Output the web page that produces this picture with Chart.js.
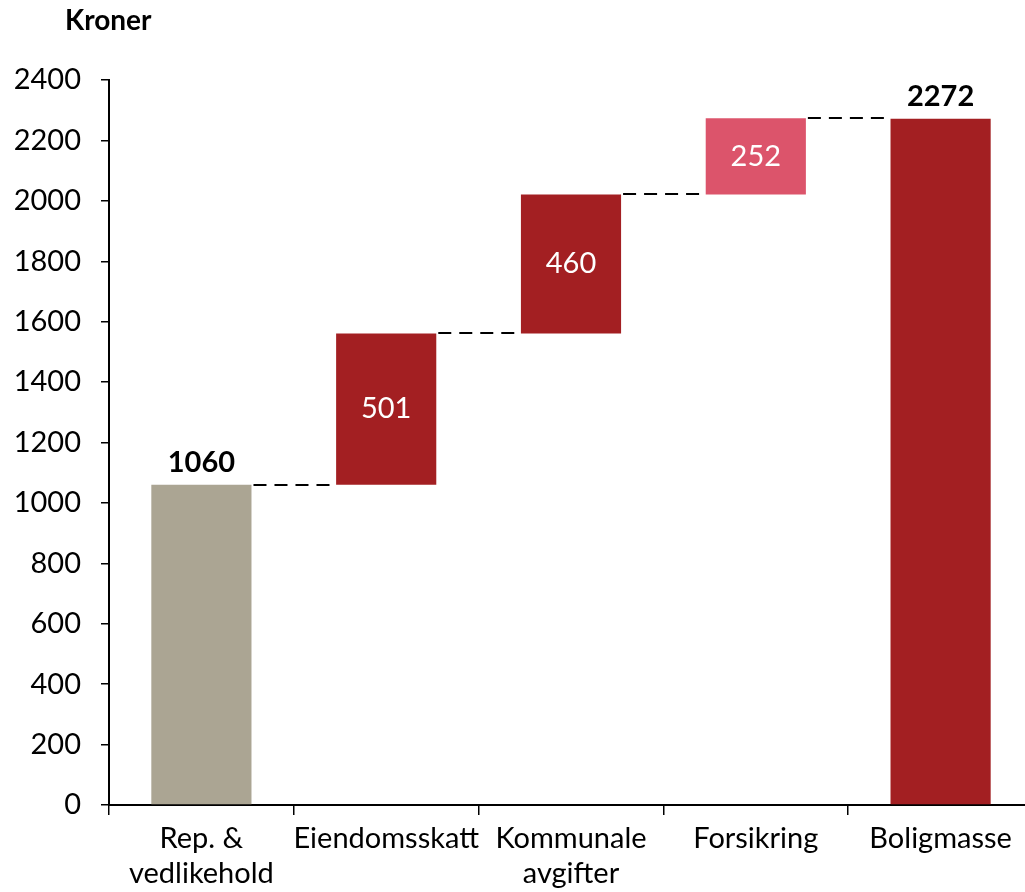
<!DOCTYPE html>
<html>
<head>
<meta charset="utf-8">
<script src="https://cdn.jsdelivr.net/npm/chart.js@4.4.1/dist/chart.umd.min.js"></script>
<style>
  html, body { margin: 0; padding: 0; background: #fff; overflow: hidden; }
  #wrap { position: relative; width: 1033px; height: 892px; }
</style>
</head>
<body>
<div id="wrap"><canvas id="c"></canvas></div>
<script>
const categories = [['Rep. &', 'vedlikehold'], 'Eiendomsskatt', ['Kommunale', 'avgifter'], 'Forsikring', 'Boligmasse'];
const values = [1060, 501, 460, 252, 2272];
const kinds = ['start', 'step', 'step', 'step', 'total'];
const colors = ['#ABA593', '#A31F22', '#A31F22', '#DC546B', '#A31F22'];
const yTicks = [0, 200, 400, 600, 800, 1000, 1200, 1400, 1600, 1800, 2000, 2200, 2400];
const yTitle = 'Kroner';

// build floating ranges from the values
const ranges = [];
let run = 0;
values.forEach((v, i) => {
  if (kinds[i] === 'step') { ranges.push([run, run + v]); run += v; }
  else { ranges.push([0, v]); run = v; }
});

const FONT = 'Lato, "Open Sans", sans-serif';

const overlay = {
  id: 'overlay',
  afterDatasetsDraw(chart) {
    const ctx = chart.ctx;
    const meta = chart.getDatasetMeta(0);
    const y = chart.scales.y;
    ctx.save();
    // connectors
    ctx.strokeStyle = '#000';
    ctx.lineWidth = 2;
    ctx.setLineDash([13, 8]);
    for (let i = 0; i < meta.data.length - 1; i++) {
      const a = meta.data[i], b = meta.data[i + 1];
      const level = ranges[i][1];
      const yy = Math.round(y.getPixelForValue(level));
      ctx.beginPath();
      ctx.moveTo(a.x + a.width / 2 + 2, yy);
      ctx.lineTo(b.x - b.width / 2 - 2, yy);
      ctx.stroke();
    }
    ctx.setLineDash([]);
    // value labels
    ctx.textAlign = 'center';
    meta.data.forEach((bar, i) => {
      if (kinds[i] === 'step') {
        ctx.fillStyle = '#fff';
        ctx.font = '29px ' + FONT;
        ctx.textBaseline = 'middle';
        const mid = y.getPixelForValue((ranges[i][0] + ranges[i][1]) / 2);
        ctx.fillText(String(values[i]), bar.x, mid);
      } else {
        ctx.fillStyle = '#000';
        ctx.font = 'bold 29px ' + FONT;
        ctx.textBaseline = 'alphabetic';
        ctx.fillText(String(values[i]), bar.x, y.getPixelForValue(ranges[i][1]) - 13);
      }
    });
    // axis title
    ctx.fillStyle = '#000';
    ctx.font = 'bold 28px ' + FONT;
    ctx.textAlign = 'left';
    ctx.textBaseline = 'middle';
    ctx.fillText(yTitle, 65, 21);
    ctx.restore();
  }
};

new Chart(document.getElementById('c'), {
  type: 'bar',
  data: {
    labels: categories,
    datasets: [{
      data: ranges,
      backgroundColor: colors,
      borderWidth: 0,
      categoryPercentage: 1,
      barPercentage: 0.542
    }]
  },
  options: {
    responsive: true,
    maintainAspectRatio: false,
    animation: false,
    layout: { padding: { top: 80, right: 0, left: 0, bottom: 0 } },
    plugins: { legend: { display: false }, tooltip: { enabled: false } },
    scales: {
      x: {
        grid: { drawOnChartArea: false, drawTicks: true, tickLength: 10, color: '#000', lineWidth: 1.5, offset: true },
        border: { color: '#000', width: 2 },
        ticks: { color: '#000', font: { family: FONT, size: 29, lineHeight: 1.18 }, padding: 7, maxRotation: 0, autoSkip: false },
        afterFit(scale) { scale.height = 87; }
      },
      y: {
        min: 0, max: 2400,
        afterBuildTicks(scale) { scale.ticks = yTicks.map(v => ({ value: v })); },
        grid: { drawOnChartArea: false, drawTicks: true, tickLength: 8, color: '#000', lineWidth: 1.5 },
        border: { color: '#000', width: 2 },
        ticks: { color: '#000', font: { family: FONT, size: 29 }, padding: 20, callback: (v) => String(v) },
        afterFit(scale) { scale.width = 109; }
      }
    }
  },
  plugins: [overlay]
});
</script>
</body>
</html>
